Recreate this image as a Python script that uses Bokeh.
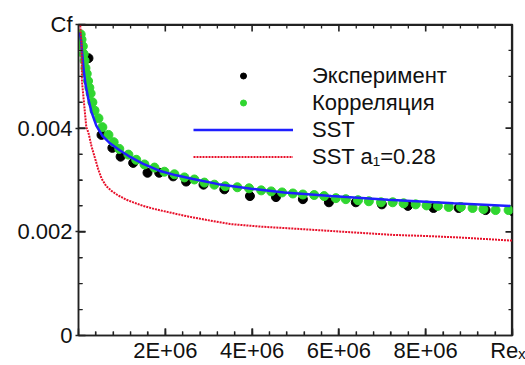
import numpy as np
from bokeh.plotting import figure
from bokeh.models import (LinearAxis, FixedTicker, Range1d, Legend, LegendItem)
from bokeh.embed import file_html
from bokeh.resources import INLINE

# ---- data (Re_x in millions, Cf) ----
exp_re = [0.23, 0.53, 0.78, 0.97, 1.26, 1.59, 1.86, 2.18, 2.48, 2.88, 3.36, 3.95,
          4.55, 5.17, 5.77, 6.39, 6.99, 7.59, 8.18, 8.76, 9.38, 10.0]
exp_cf = [0.00535, 0.00387, 0.00362, 0.00345, 0.00333, 0.00314, 0.00314, 0.00307,
          0.00297, 0.00291, 0.00282, 0.00269, 0.00267, 0.00263, 0.00257, 0.00257,
          0.00253, 0.00250, 0.00246, 0.00246, 0.00242, 0.00240]

corr_re = [0.05, 0.07, 0.10, 0.12, 0.14, 0.16, 0.19, 0.22, 0.25, 0.28,
           0.32, 0.37, 0.46, 0.55, 0.69, 0.81, 0.94, 1.15, 1.33, 1.52,
           1.75, 1.98, 2.21, 2.44, 2.67, 2.90, 3.13, 3.38, 3.66, 3.93,
           4.21, 4.44, 4.69, 4.94, 5.17, 5.43, 5.66, 5.93, 6.16, 6.44,
           6.69, 6.97, 7.24, 7.49, 7.77, 8.02, 8.28, 8.53, 8.81, 9.08,
           9.33, 9.61, 9.91]
corr_cf = [0.00581, 0.00571, 0.00558, 0.00543, 0.00530, 0.00516, 0.00505, 0.00491, 0.00478, 0.00467,
           0.00450, 0.00434, 0.00419, 0.00402, 0.00387, 0.00373, 0.00360, 0.00349, 0.00339, 0.00330,
           0.00324, 0.00316, 0.00311, 0.00305, 0.00301, 0.00295, 0.00291, 0.00288, 0.00286, 0.00284,
           0.00280, 0.00278, 0.00276, 0.00274, 0.00272, 0.00271, 0.00269, 0.00265, 0.00263, 0.00261,
           0.00259, 0.00257, 0.00257, 0.00255, 0.00253, 0.00251, 0.00250, 0.00248, 0.00248, 0.00246,
           0.00244, 0.00242, 0.00242]

sst_re = [0.03, 0.06, 0.09, 0.12, 0.16, 0.23, 0.30, 0.41, 0.55, 0.71, 0.94, 1.20,
          1.49, 1.86, 2.25, 2.64, 3.22, 3.98, 4.74, 5.82, 7.13, 8.64, 9.95]
sst_cf = [0.00585, 0.00568, 0.00540, 0.00512, 0.00485, 0.00455, 0.00431, 0.00405,
          0.00385, 0.00372, 0.00358, 0.00344, 0.00331, 0.00318, 0.00309, 0.00302,
          0.00292, 0.00283, 0.00276, 0.00269, 0.00262, 0.00255, 0.00250]

sst28_re = [0.04, 0.07, 0.08, 0.115, 0.18, 0.23, 0.30, 0.37, 0.45, 0.53, 0.64, 0.76,
            0.90, 1.10, 1.29, 1.49, 1.75, 2.07, 2.50, 2.95, 3.50, 4.21, 5.00, 5.75,
            6.50, 7.26, 8.00, 8.80, 9.40, 10.0]
sst28_cf = [0.00598, 0.00564, 0.00490, 0.00459, 0.00402, 0.00391, 0.00365, 0.00345,
            0.00322, 0.00303, 0.00288, 0.00279, 0.00271, 0.00262, 0.00256, 0.00250,
            0.00244, 0.00238, 0.00230, 0.00223, 0.00215, 0.00210, 0.00206, 0.00202,
            0.00198, 0.00194, 0.00192, 0.00189, 0.00186, 0.00183]

x_ticks = [0, 2e6, 4e6, 6e6, 8e6, 1e7]
x_tick_labels = ["", "2E+06", "4E+06", "6E+06", "8E+06", "Reₓ"]
y_ticks = [0, 0.002, 0.004, 0.006]
y_tick_labels = ["0", "0.002", "0.004", "Cf"]

legend_labels = ["Эксперимент", "Корреляция", "SST", "SST a₁=0.28"]

M = 1e6
FONT = "Liberation Sans"
AX = "#222222"
X0, X1, Y0, Y1 = 0.0, 1e7, 0.0, 0.006
W, H = 525, 365
BL, BR, BT, BB = 78, 13, 24, 30

p = figure(width=W, height=H, output_backend="svg", toolbar_location=None,
           x_range=Range1d(X0, X1), y_range=Range1d(Y0, Y1),
           min_border_left=BL, min_border_right=BR, min_border_top=BT, min_border_bottom=10)
p.grid.visible = False
p.outline_line_color = AX
p.outline_line_width = 1.5

x_minor = [float(v) for v in np.arange(X0, X1 + 1, 4e5)]
y_minor = [float(v) for v in np.arange(Y0, Y1 + 1e-9, 0.0005)]


def style(ax):
    ax.axis_line_color = AX
    ax.axis_line_width = 1.5
    ax.major_tick_line_color = AX
    ax.minor_tick_line_color = AX
    ax.major_tick_line_width = 1.5
    ax.minor_tick_line_width = 1.2
    ax.major_tick_in = 7
    ax.minor_tick_in = 4
    ax.minor_tick_out = 0
    ax.major_label_text_font = FONT
    ax.major_label_text_font_size = "22px"
    ax.major_label_text_color = "#111111"


xb = p.xaxis[0]
xb.ticker = FixedTicker(ticks=x_ticks, minor_ticks=x_minor)
xb.major_label_overrides = {float(t): l for t, l in zip(x_ticks, x_tick_labels)}
style(xb)
xb.major_tick_out = 0
xb.major_label_standoff = 2

yl = p.yaxis[0]
yl.ticker = FixedTicker(ticks=y_ticks, minor_ticks=y_minor)
yl.major_label_overrides = {float(t): l for t, l in zip(y_ticks, y_tick_labels)}
style(yl)
yl.major_tick_out = 3
yl.major_label_standoff = 3

# frame edges and inward tick marks as thin filled quads placed at the tick
# values through the plot's scales (sizes given in pixels)
fw, fh = W - BL - BR, H - BT - BB
px_x = (X1 - X0) / fw
px_y = (Y1 - Y0) / fh
xmaj = np.array(x_ticks[1:-1], dtype=float)
xmin = np.array([t for t in x_minor if t not in x_ticks])
ymaj = np.array(y_ticks[1:-1], dtype=float)
ymin = np.array([t for t in y_minor if not any(abs(t - u) < 1e-9 for u in y_ticks)])
qs = dict(fill_color=AX, line_color=None)
for xs, L, w in ((xmaj, 7, 1.6), (xmin, 4, 1.3)):
    hw = 0.5 * w * px_x
    p.quad(left=xs - hw, right=xs + hw, bottom=Y0, top=Y0 + L * px_y, **qs)
    p.quad(left=xs - hw, right=xs + hw, bottom=Y1 - L * px_y, top=Y1, **qs)
for ys, L, w in ((ymaj, 7, 1.6), (ymin, 4, 1.3)):
    hh = 0.5 * w * px_y
    p.quad(left=X0, right=X0 + L * px_x, bottom=ys - hh, top=ys + hh, **qs)
    p.quad(left=X1 - L * px_x, right=X1, bottom=ys - hh, top=ys + hh, **qs)
p.quad(left=[X0, X1 - 1.6 * px_x], right=[X1, X1], bottom=[Y1 - 1.6 * px_y, Y0],
       top=[Y1, Y1], **qs)

r_exp = p.scatter(np.array(exp_re) * M, exp_cf, size=9, color="black")
r_corr = p.scatter(np.array(corr_re) * M, corr_cf, size=9, color="#30d630")
r_sst = p.line(np.array(sst_re) * M, sst_cf, line_color="#1f1fff", line_width=2.5)
r_sst28 = p.line(np.array(sst28_re) * M, sst28_cf, line_color="#e8102a", line_width=2,
                 line_dash="2 1")

legend = Legend(items=[LegendItem(label=l, renderers=[r]) for l, r in
                       zip(legend_labels, [r_exp, r_corr, r_sst, r_sst28])],
                location=(115, 165), glyph_width=100, glyph_height=15, label_height=27,
                label_standoff=19, spacing=0, padding=0, margin=0,
                border_line_color=None, background_fill_alpha=0,
                label_text_font=FONT, label_text_font_size="22px",
                label_text_color="#111111")
p.add_layout(legend)

open("out.html", "w").write(file_html(p, INLINE))
